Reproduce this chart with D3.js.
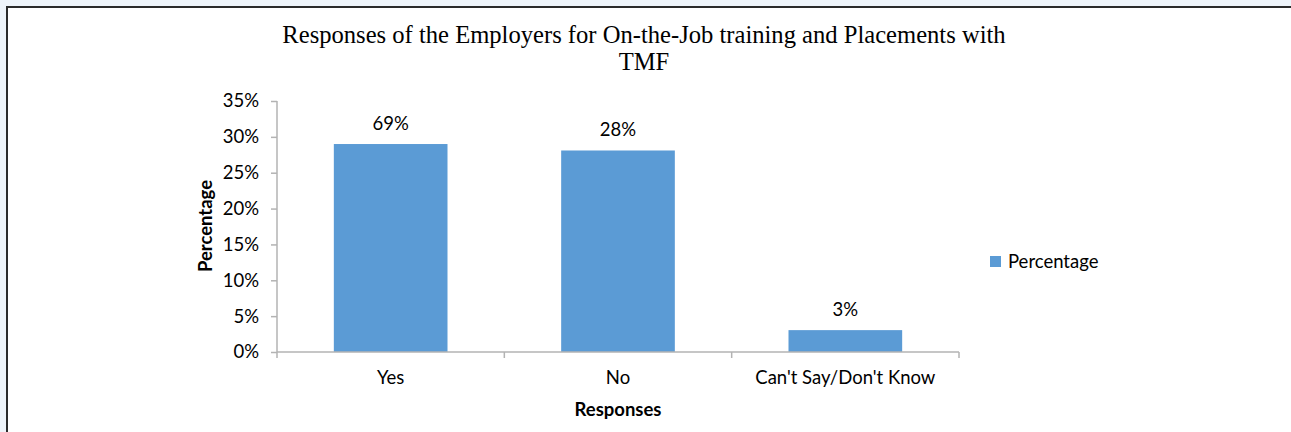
<!DOCTYPE html>
<html>
<head>
<meta charset="utf-8">
<script src="https://cdn.jsdelivr.net/npm/d3@7"></script>
<style>
  html, body { margin: 0; padding: 0; background: #eef4fa; }
  svg { display: block; }
</style>
</head>
<body>
<svg id="chart" width="1291" height="432"></svg>
<script>
const categories = ["Yes", "No", "Can't Say/Don't Know"];
const barValues = [29, 28.1, 3.05];          // bar heights as drawn (%)
const barLabels = ["69%", "28%", "3%"];      // data labels as printed
const yTicks = [0, 5, 10, 15, 20, 25, 30, 35];
const titleLines = ["Responses of the Employers for On-the-Job training and Placements with", "TMF"];
const seriesName = "Percentage";
const xTitle = "Responses";
const yTitle = "Percentage";

const svg = d3.select("#chart");
const W = 1291, H = 432;
const labelFont = "Lato, 'Open Sans', sans-serif";
const fs = 18.5;

// frame
svg.append("rect").attr("x", 7).attr("y", 7).attr("width", W).attr("height", H)
  .attr("fill", "#ffffff").attr("stroke", "#2b2b2b").attr("stroke-width", 2);

const x = d3.scaleBand().domain(categories).range([277, 959]).paddingInner(0.5).paddingOuter(0.25);
const y = d3.scaleLinear().domain([0, 35]).range([352, 101]);

// title
svg.append("g").selectAll("text").data(titleLines).join("text")
  .attr("x", 644).attr("y", (d, i) => 43 + i * 27)
  .attr("text-anchor", "middle")
  .attr("font-family", "'Liberation Serif', 'Times New Roman', serif")
  .attr("font-size", 24.6).attr("fill", "#000")
  .text(d => d);

// bars
svg.append("g").selectAll("rect").data(categories).join("rect")
  .attr("x", d => x(d)).attr("width", x.bandwidth())
  .attr("y", (d, i) => y(barValues[i]))
  .attr("height", (d, i) => y(0) - y(barValues[i]))
  .attr("fill", "#5b9bd5");

// data labels
svg.append("g").selectAll("text").data(categories).join("text")
  .attr("x", d => x(d) + x.bandwidth() / 2)
  .attr("y", (d, i) => y(barValues[i]) - 14)
  .attr("text-anchor", "middle")
  .attr("font-family", labelFont).attr("font-size", fs).attr("fill", "#000")
  .text((d, i) => barLabels[i]);

// y axis
const yAxis = svg.append("g").attr("transform", "translate(277,0)")
  .call(d3.axisLeft(y).tickValues(yTicks).tickFormat(d => d + "%").tickSize(6).tickPadding(12));
yAxis.select(".domain").attr("stroke", "#b3b3b3").attr("stroke-width", 1.5).attr("d", "M0,101V352");
yAxis.selectAll(".tick line").attr("stroke", "#b3b3b3").attr("stroke-width", 1.5);
yAxis.selectAll(".tick text").attr("font-family", labelFont).attr("font-size", fs).attr("fill", "#000");

// x axis
const xAxis = svg.append("g").attr("transform", "translate(0,352)")
  .call(d3.axisBottom(x).tickSize(0).tickPadding(19));
xAxis.select(".domain").attr("stroke", "#b3b3b3").attr("stroke-width", 1.5).attr("d", "M277,0H959");
xAxis.selectAll(".tick text").attr("font-family", labelFont).attr("font-size", fs).attr("fill", "#000");
// category boundary ticks
const boundaries = d3.range(categories.length + 1).map(i => 277 + i * (959 - 277) / categories.length);
xAxis.append("g").selectAll("line").data(boundaries).join("line")
  .attr("x1", d => d).attr("x2", d => d).attr("y1", 0).attr("y2", 6)
  .attr("stroke", "#b3b3b3").attr("stroke-width", 1.5);

// axis titles
svg.append("text").attr("x", 618).attr("y", 416).attr("text-anchor", "middle")
  .attr("font-family", labelFont).attr("font-weight", "bold").attr("font-size", fs).attr("fill", "#000")
  .text(xTitle);
svg.append("text").attr("transform", "translate(212,226) rotate(-90)").attr("text-anchor", "middle")
  .attr("font-family", labelFont).attr("font-weight", "bold").attr("font-size", fs).attr("fill", "#000")
  .text(yTitle);

// legend
const lg = svg.append("g").attr("transform", "translate(990,256)");
lg.append("rect").attr("width", 11).attr("height", 11).attr("fill", "#5b9bd5");
lg.append("text").attr("x", 18).attr("y", 12).attr("font-family", labelFont).attr("font-size", fs).attr("fill", "#000")
  .text(seriesName);
</script>
</body>
</html>
